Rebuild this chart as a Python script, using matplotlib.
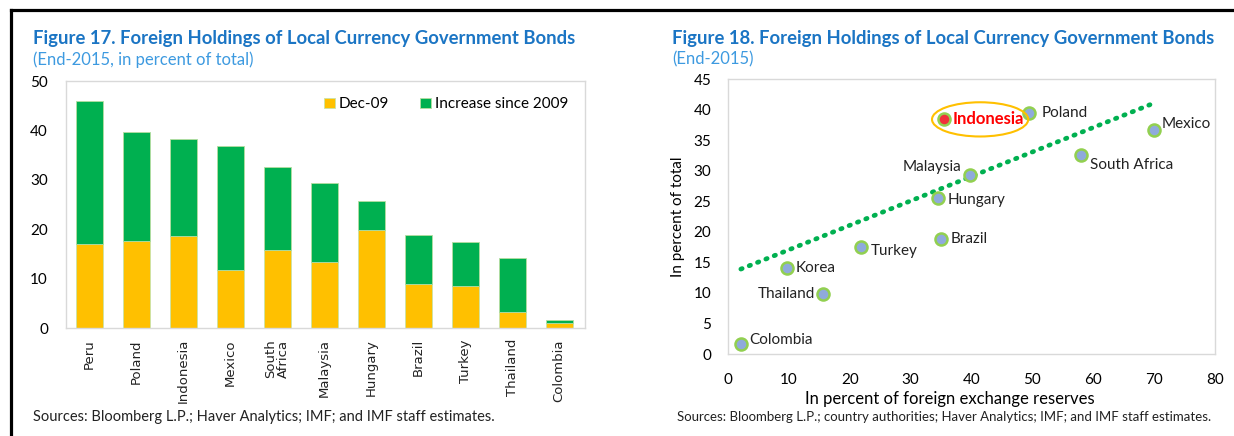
import matplotlib
matplotlib.use('Agg')
import matplotlib.pyplot as plt
from matplotlib.patches import Ellipse
from matplotlib.lines import Line2D
import numpy as np

# ─── Daten: Figure 17 (Balken) ───────────────────────────────────────────────
laender = ['Peru', 'Poland', 'Indonesia', 'Mexico', 'South\nAfrica', 'Malaysia',
           'Hungary', 'Brazil', 'Turkey', 'Thailand', 'Colombia']
dez_09 = [17.0, 17.6, 18.6, 11.8, 15.7, 13.3, 19.9, 8.9, 8.6, 3.2, 1.1]
gesamt_2015 = [45.9, 39.7, 38.3, 36.8, 32.5, 29.3, 25.7, 18.9, 17.4, 14.2, 1.7]

# ─── Daten: Figure 18 (Streudiagramm) ────────────────────────────────────────
punkt_namen = ['Colombia', 'Thailand', 'Korea', 'Turkey', 'Brazil', 'Hungary',
               'Malaysia', 'Indonesia', 'Poland', 'South Africa', 'Mexico']
anteil_reserven = [2.1, 15.6, 9.7, 21.8, 35.0, 34.5, 39.7, 35.5, 49.4, 58.0, 70.0]
anteil_total = [1.6, 9.8, 14.1, 17.5, 18.9, 25.6, 29.3, 38.4, 39.5, 32.5, 36.7]
trend_x = [2.1, 69.3]
trend_y = [13.9, 40.8]

GELB = '#FFC000'
GRUEN = '#00B050'
TITEL_BLAU = '#1B75C4'
UNTER_BLAU = '#3D9AE0'
RAHMEN = '#D9D9D9'
FONT = 'Lato'

fig = plt.figure(figsize=(12.34, 4.36), dpi=100)

# schwarze Rahmenlinien oben und links
fig.add_artist(Line2D([0.0093, 1.0], [0.978, 0.978], color='black', lw=2.3,
                      transform=fig.transFigure))
fig.add_artist(Line2D([0.0093, 0.0093], [0.0, 0.978], color='black', lw=2.3,
                      transform=fig.transFigure))


def rahmen(ax):
    for s in ax.spines.values():
        s.set_color(RAHMEN)
        s.set_linewidth(1.0)
    ax.tick_params(length=0)


# ─── Figure 17 ───────────────────────────────────────────────────────────────
ax1 = fig.add_axes([0.0535, 0.2477, 0.4206, 0.5665])
x = np.arange(len(laender))
zuwachs = [g - d for g, d in zip(gesamt_2015, dez_09)]
ax1.bar(x, dez_09, width=0.57, color=GELB, edgecolor='#C9E3A8', linewidth=0.6,
        label='Dec-09')
ax1.bar(x, zuwachs, width=0.57, bottom=dez_09, color=GRUEN, edgecolor='#B5DDA0',
        linewidth=0.6, label='Increase since 2009')
ax1.set_xlim(-0.5, len(laender) - 0.45)
ax1.set_ylim(0, 50)
ax1.set_yticks(range(0, 51, 10))
ax1.set_xticks(x)
ax1.set_xticklabels(laender, rotation=90, fontsize=9.5, family='DejaVu Sans',
                    color='#222222', linespacing=1.0)
for lbl in ax1.get_yticklabels():
    lbl.set_fontsize(11)
    lbl.set_family(FONT)
ax1.tick_params(axis='y', pad=13)
ax1.tick_params(axis='x', pad=8)
rahmen(ax1)
ax1.legend(loc='upper right', ncol=2, frameon=False,
           prop={'family': FONT, 'size': 11}, handlelength=0.7, handleheight=0.7,
           handletextpad=0.3, columnspacing=2.0, bbox_to_anchor=(0.995, 0.99))

fig.text(0.0267, 0.899, 'Figure 17. Foreign Holdings of Local Currency Government Bonds',
         fontsize=13.3, fontweight='bold', color=TITEL_BLAU, family=FONT)
fig.text(0.0267, 0.852, '(End-2015, in percent of total)', fontsize=12,
         color=UNTER_BLAU, family=FONT)
fig.text(0.0267, 0.035, 'Sources: Bloomberg L.P.; Haver Analytics; IMF; and IMF staff estimates.',
         fontsize=10.5, color='#222222', family=FONT)

# ─── Figure 18 ───────────────────────────────────────────────────────────────
ax2 = fig.add_axes([0.59, 0.188, 0.3947, 0.6307])
ax2.plot(trend_x, trend_y, color=GRUEN, lw=3.4, linestyle=(0, (0.3, 1.6)),
         dash_capstyle='round', zorder=2)

label_pos = {
    'Colombia': (6, 3, 'left', 'center'),
    'Thailand': (-6, 0, 'right', 'center'),
    'Korea': (6, 0, 'left', 'center'),
    'Turkey': (7, -3, 'left', 'center'),
    'Brazil': (7, 0, 'left', 'center'),
    'Hungary': (7, -2, 'left', 'center'),
    'Malaysia': (-6, 6, 'right', 'center'),
    'Indonesia': (6, 0, 'left', 'center'),
    'Poland': (9, 0, 'left', 'center'),
    'South Africa': (6, -7, 'left', 'center'),
    'Mexico': (5, 4, 'left', 'center'),
}

for name, xv, yv in zip(punkt_namen, anteil_reserven, anteil_total):
    farbe = '#F0303A' if name == 'Indonesia' else '#8FAADC'
    ax2.scatter(xv, yv, s=75, color=farbe, edgecolor='#92D050', linewidth=1.8,
                zorder=3)
    dx, dy, ha, va = label_pos[name]
    if name == 'Indonesia':
        ax2.annotate(name, (xv, yv), xytext=(dx, dy), textcoords='offset points',
                     ha=ha, va=va, fontsize=12, fontweight='bold', color='#FF0000',
                     family=FONT, zorder=4)
    else:
        ax2.annotate(name, (xv, yv), xytext=(dx, dy), textcoords='offset points',
                     ha=ha, va=va, fontsize=11, color='#222222', family=FONT,
                     zorder=4)

# Markierung um Indonesien
ax2.add_patch(Ellipse((41.4, 38.4), 15.8, 5.6, fill=False, edgecolor=GELB,
                      lw=1.5, zorder=4))

ax2.set_xlim(0, 80)
ax2.set_ylim(0, 45)
ax2.set_xticks(range(0, 81, 10))
ax2.set_yticks(range(0, 46, 5))
for lbl in ax2.get_xticklabels() + ax2.get_yticklabels():
    lbl.set_fontsize(11)
    lbl.set_family(FONT)
ax2.tick_params(axis='x', pad=14)
ax2.tick_params(axis='y', pad=12)
rahmen(ax2)
ax2.set_xlabel('In percent of foreign exchange reserves', fontsize=12,
               family=FONT)
ax2.xaxis.set_label_coords(0.455, -0.135)
ax2.set_ylabel('In percent of total', fontsize=11, family=FONT, labelpad=6)

fig.text(0.5446, 0.899, 'Figure 18. Foreign Holdings of Local Currency Government Bonds',
         fontsize=13.3, fontweight='bold', color=TITEL_BLAU, family=FONT)
fig.text(0.5446, 0.852, '(End-2015)', fontsize=12, color=UNTER_BLAU, family=FONT)
fig.text(0.549, 0.035, 'Sources: Bloomberg L.P.; country authorities; Haver Analytics; IMF; and IMF staff estimates.',
         fontsize=9.5, color='#222222', family=FONT)

fig.savefig('out.png', dpi=100)
plt.close(fig)
